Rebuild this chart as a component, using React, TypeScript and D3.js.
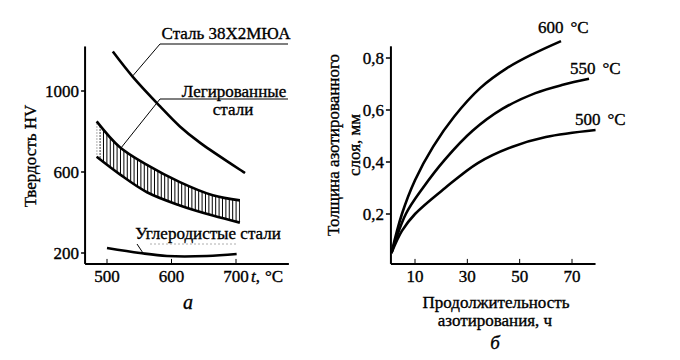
import React from "react";
import * as d3 from "d3";

// ---------- Panel a: hardness vs temperature ----------
const steelTemp = [509, 540, 582, 613, 644, 714];
const steelHV = [1195, 1070, 925, 825, 745, 595];

const alloyTemp = [484, 520, 562, 613, 664, 706];
const alloyUpperHV = [850, 722, 635, 550, 485, 460];
const alloyLowerHV = [675, 588, 500, 435, 385, 350];

const carbonTemp = [500, 551, 593, 655, 701];
const carbonHV = [225, 200, 185, 185, 195];

const aXTicks = [500, 600, 700];
const aYTicks = [200, 600, 1000];

// ---------- Panel б: case depth vs time ----------
const hours600 = [1, 5, 10, 17, 25, 35, 45, 55, 65.8];
const depth600 = [0.05, 0.2, 0.33, 0.46, 0.575, 0.685, 0.76, 0.815, 0.865];
const hours550 = [1, 6.5, 13, 21.5, 32, 43.5, 56, 66.5, 76.5];
const depth550 = [0.05, 0.2, 0.3, 0.41, 0.52, 0.605, 0.665, 0.697, 0.72];
const hours500 = [1, 5, 10, 21.5, 34, 47, 60, 79];
const depth500 = [0.05, 0.135, 0.2, 0.3, 0.396, 0.458, 0.496, 0.523];

const bXTicks = [10, 30, 50, 70];
const bYTicks = [0.2, 0.4, 0.6, 0.8];
const bYTickLabels = ["0,2", "0,4", "0,6", "0,8"];

const FONT = "Liberation Serif, Times New Roman, serif";

export default function App() {
  const ax = d3.scaleLinear().domain([500, 700]).range([107, 236]);
  const ay = d3.scaleLinear().domain([200, 1000]).range([253, 91]);
  const aX0 = ax(466), aX1 = ax(782);
  const aY0 = ay(146), aY1 = ay(1220);

  const bx = d3.scaleLinear().domain([10, 70]).range([415, 572]);
  const by = d3.scaleLinear().domain([0.2, 0.8]).range([214, 58]);
  const bX0 = bx(0.8), bX1 = bx(79);
  const bY0 = by(0.008), bY1 = by(0.845);

  const lineA = d3
    .line<[number, number]>()
    .x((d) => ax(d[0]))
    .y((d) => ay(d[1]))
    .curve(d3.curveCatmullRom.alpha(0.5));
  const lineB = d3
    .line<[number, number]>()
    .x((d) => bx(d[0]))
    .y((d) => by(d[1]))
    .curve(d3.curveCatmullRom.alpha(0.5));

  const zip = (a: number[], b: number[]) => a.map((v, i) => [v, b[i]] as [number, number]);

  const bandArea = d3
    .area<number>()
    .x((_, i) => ax(alloyTemp[i]))
    .y0((_, i) => ay(alloyLowerHV[i]))
    .y1((_, i) => ay(alloyUpperHV[i]))
    .curve(d3.curveCatmullRom.alpha(0.5))(alloyTemp);

  const hatchX: number[] = [];
  const hx0 = ax(alloyTemp[0]);
  const hx1 = ax(alloyTemp[alloyTemp.length - 1]);
  for (let x = hx0; x <= hx1 + 0.1; x += 3.4) hatchX.push(x);

  const sw = 2.6;
  const txt = { fontFamily: FONT };
  const ts = { stroke: "#000", strokeWidth: 0.35 } as const;

  return (
    <div style={{ position: "absolute", left: 0, top: 0 }}>
      <svg width={680} height={360} style={{ display: "block", background: "#fff", fontFamily: FONT }}>
        <rect width={680} height={360} fill="#fff" />
        <defs>
          <clipPath id="bandClip">
            <path d={bandArea || ""} />
          </clipPath>
        </defs>

        {/* ===== Panel a ===== */}
        <g style={txt}>
          <line x1={aX0} y1={aY0} x2={aX0} y2={aY1} stroke="#000" strokeWidth={2} />
          <line x1={aX0} y1={aY0} x2={aX1} y2={aY0} stroke="#000" strokeWidth={2} />
          {aYTicks.map((t) => (
            <g key={"ay" + t}>
              <line x1={aX0 - 4} x2={aX0} y1={ay(t)} y2={ay(t)} stroke="#000" strokeWidth={1.5} />
              <text x={aX0 - 6} y={ay(t)} dy="0.35em" textAnchor="end" fontSize={17} style={txt} {...ts}>
                {t}
              </text>
            </g>
          ))}
          {aXTicks.map((t) => (
            <g key={"ax" + t}>
              <line x1={ax(t)} x2={ax(t)} y1={aY0} y2={aY0 - 5} stroke="#000" strokeWidth={1} />
              <text x={ax(t)} y={276} dy="0.35em" textAnchor="middle" fontSize={17} style={txt} {...ts}>
                {t}
              </text>
            </g>
          ))}
          <text x={251} y={276} dy="0.35em" fontSize={17} style={txt} {...ts}>
            <tspan fontStyle="italic">t</tspan>
            <tspan>,</tspan>
            <tspan dx={5}>°C</tspan>
          </text>
          <text
            transform={`translate(30,156) rotate(-90)`}
            textAnchor="middle"
            dy="0.35em"
            fontSize={17}
            style={txt}
            {...ts}
          >
            Твердость HV
          </text>
          <text x={188} y={302} dy="0.35em" textAnchor="middle" fontSize={20} fontStyle="italic" style={txt} {...ts}>
            а
          </text>

          <g clipPath="url(#bandClip)">
            {hatchX.map((x, i) => (
              <line
                key={"h" + i}
                x1={x}
                x2={x}
                y1={ay(900)}
                y2={ay(300)}
                stroke="#000"
                strokeWidth={1}
                strokeDasharray={i < 2 ? "1.5,1.5" : undefined}
              />
            ))}
          </g>
          <path d={lineA(zip(alloyTemp, alloyUpperHV)) || ""} fill="none" stroke="#000" strokeWidth={sw} />
          <path d={lineA(zip(alloyTemp, alloyLowerHV)) || ""} fill="none" stroke="#000" strokeWidth={sw} />

          <path d={lineA(zip(steelTemp, steelHV)) || ""} fill="none" stroke="#000" strokeWidth={sw} />
          <path d={lineA(zip(carbonTemp, carbonHV)) || ""} fill="none" stroke="#000" strokeWidth={sw} />

          <text x={226} y={33} dy="0.35em" textAnchor="middle" fontSize={17} style={txt} {...ts}>
            Сталь 38Х2МЮА
          </text>
          <line x1={160} y1={44} x2={288} y2={44} stroke="#000" strokeWidth={1.2} />
          <line x1={160} y1={44} x2={ax(540)} y2={ay(1075)} stroke="#000" strokeWidth={1} />

          <text x={234} y={91} dy="0.35em" textAnchor="middle" fontSize={17} style={txt} {...ts}>
            Легированные
          </text>
          <line x1={160} y1={99} x2={288} y2={99} stroke="#000" strokeWidth={1.2} />
          <text x={233} y={109} dy="0.35em" textAnchor="middle" fontSize={17} style={txt} {...ts}>
            стали
          </text>
          <line x1={160} y1={99} x2={ax(522)} y2={ay(720)} stroke="#000" strokeWidth={1} />

          <text x={208} y={233} dy="0.35em" textAnchor="middle" fontSize={17} style={txt} {...ts}>
            Углеродистые стали
          </text>
          <line x1={150} y1={244} x2={237} y2={244} stroke="#999" strokeWidth={0.8} strokeDasharray="2,2" />
          <line x1={137} y1={244} x2={ax(556)} y2={ay(199)} stroke="#000" strokeWidth={1} />
        </g>

        {/* ===== Panel б ===== */}
        <g style={txt}>
          <line x1={bX0} y1={bY0} x2={bX0} y2={bY1} stroke="#000" strokeWidth={2} />
          <line x1={bX0} y1={bY0} x2={bX1} y2={bY0} stroke="#000" strokeWidth={2} />
          {bYTicks.map((t, i) => (
            <g key={"by" + t}>
              <line x1={bX0 - 5} x2={bX0} y1={by(t)} y2={by(t)} stroke="#000" strokeWidth={1.5} />
              <text x={bX0 - 7} y={by(t)} dy="0.35em" textAnchor="end" fontSize={17} style={txt} {...ts}>
                {bYTickLabels[i]}
              </text>
            </g>
          ))}
          {bXTicks.map((t) => (
            <g key={"bx" + t}>
              <line x1={bx(t)} x2={bx(t)} y1={bY0} y2={bY0 - 5} stroke="#000" strokeWidth={1} />
              <text x={bx(t)} y={276} dy="0.35em" textAnchor="middle" fontSize={17} style={txt} {...ts}>
                {t}
              </text>
            </g>
          ))}

          <path d={lineB(zip(hours600, depth600)) || ""} fill="none" stroke="#000" strokeWidth={sw} />
          <path d={lineB(zip(hours550, depth550)) || ""} fill="none" stroke="#000" strokeWidth={sw} />
          <path d={lineB(zip(hours500, depth500)) || ""} fill="none" stroke="#000" strokeWidth={sw} />

          <text x={538} y={27} dy="0.35em" fontSize={17} style={txt} {...ts}>
            600<tspan dx={7}>°C</tspan>
          </text>
          <text x={570} y={68} dy="0.35em" fontSize={17} style={txt} {...ts}>
            550<tspan dx={7}>°C</tspan>
          </text>
          <text x={575} y={119} dy="0.35em" fontSize={17} style={txt} {...ts}>
            500<tspan dx={7}>°C</tspan>
          </text>

          <text transform={`translate(333,145) rotate(-90)`} textAnchor="middle" dy="0.35em" fontSize={17} style={txt} {...ts}>
            Толщина азотированного
          </text>
          <text transform={`translate(354,145) rotate(-90)`} textAnchor="middle" dy="0.35em" fontSize={17} style={txt} {...ts}>
            слоя, мм
          </text>

          <text x={496} y={302} dy="0.35em" textAnchor="middle" fontSize={17} style={txt} {...ts}>
            Продолжительность
          </text>
          <text x={495} y={320} dy="0.35em" textAnchor="middle" fontSize={17} style={txt} {...ts}>
            азотирования, ч
          </text>
          <text x={495} y={342} dy="0.35em" textAnchor="middle" fontSize={19} fontStyle="italic" style={txt} {...ts}>
            б
          </text>
        </g>
      </svg>
    </div>
  );
}
